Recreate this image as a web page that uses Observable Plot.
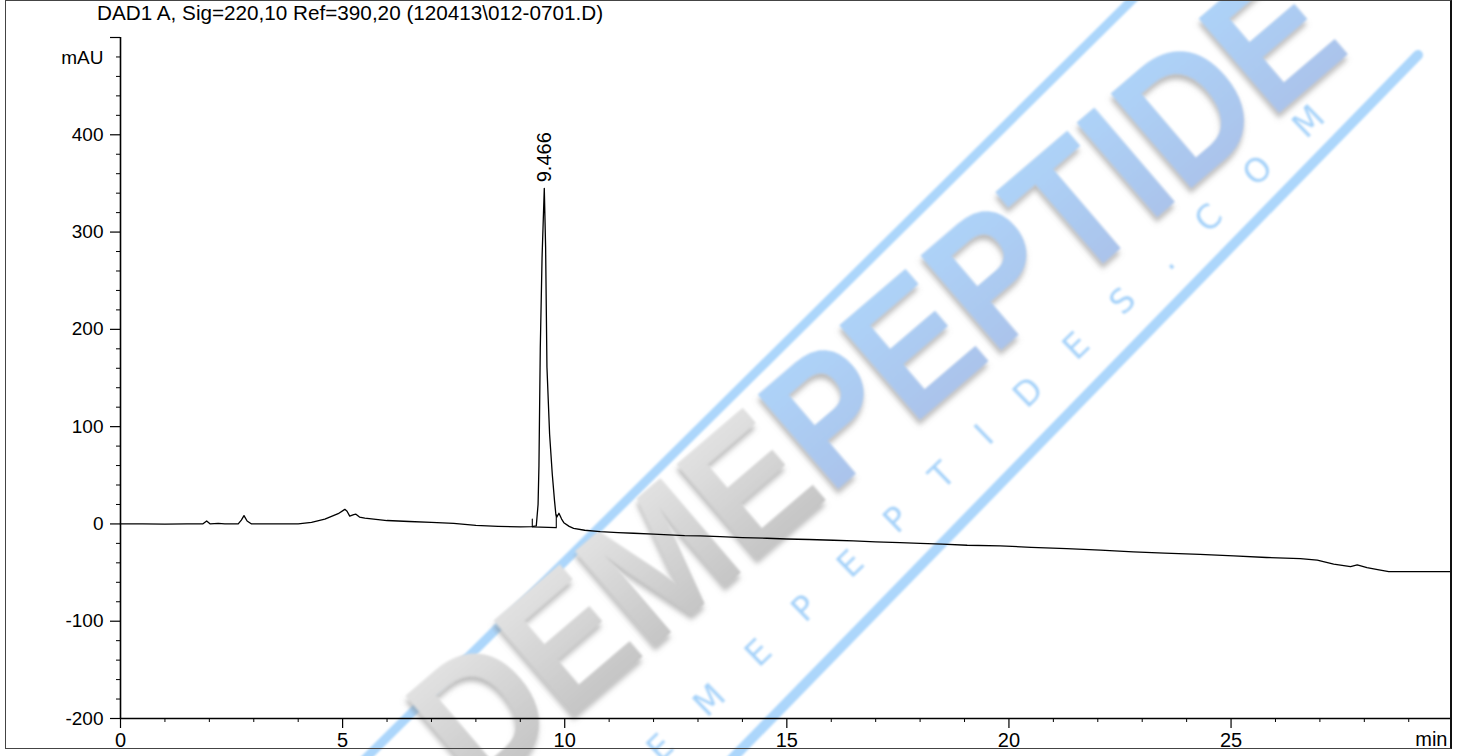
<!DOCTYPE html>
<html>
<head>
<meta charset="utf-8">
<script src="https://cdn.jsdelivr.net/npm/d3@7"></script>
<script src="https://cdn.jsdelivr.net/npm/@observablehq/plot@0.6"></script>
<style>
  body { margin: 0; background: #fff; }
  #wrap { position: relative; width: 1465px; height: 756px; overflow: hidden; background: #fff; font-family: "Liberation Sans", Arial, sans-serif; }
  #title { position: relative; z-index: 2; height: 26px; line-height: 26px; padding-left: 97px; font-size: 20.7px; color: #000; white-space: nowrap; }
  #chart { position: relative; z-index: 2; }
  #wm { position: absolute; left: 0; top: 0; z-index: 1; }
  #frame { position: absolute; left: 5px; top: 0; width: 1444px; height: 747px; border: 1.5px solid #444; border-right: 2px solid #111; z-index: 3; pointer-events: none; }
</style>
</head>
<body>
<div id="wrap">
  <svg id="wm" width="1465" height="756">
    <defs>
      <linearGradient id="gg" x1="0" y1="0" x2="0" y2="1">
        <stop offset="0" stop-color="#eaeaea"/>
        <stop offset="1" stop-color="#bdbdbd"/>
      </linearGradient>
      <linearGradient id="bg" x1="0" y1="0" x2="0" y2="1">
        <stop offset="0" stop-color="#aed7fc"/>
        <stop offset="1" stop-color="#aabfe7"/>
      </linearGradient>
      <filter id="sh" x="-10%" y="-10%" width="120%" height="120%">
        <feGaussianBlur in="SourceGraphic" stdDeviation="1.2" result="b"/>
        <feDropShadow in="b" dx="-4" dy="4" stdDeviation="2.5" flood-color="#777" flood-opacity="0.5"/>
      </filter>
      <filter id="soft"><feGaussianBlur stdDeviation="1.1"/></filter>
    </defs>
    <line x1="362" y1="762" x2="1138" y2="-6" stroke="#acd6fb" stroke-width="9" filter="url(#soft)"/>
    <line x1="728" y1="763" x2="1418" y2="55" stroke="#acd6fb" stroke-width="10" stroke-linecap="round" filter="url(#soft)"/>
    <text transform="translate(478,797) rotate(-40.5)" font-family="Liberation Sans, Arial, sans-serif" font-size="180" font-weight="bold" textLength="1150" lengthAdjust="spacingAndGlyphs" filter="url(#sh)"><tspan fill="url(#gg)">DEME</tspan><tspan fill="url(#bg)">PEPTIDE</tspan></text>
    <text transform="translate(611,811) rotate(-44)" font-family="DejaVu Sans, sans-serif" font-size="33" fill="#a4d1f9" textLength="995" lengthAdjust="spacing" filter="url(#soft)">DEMEPEPTIDES.COM</text>
  </svg>
  <div id="title"></div>
  <div id="chart"></div>
  <div id="frame"></div>
</div>
<script>
// ---- data ----
const title = "DAD1 A, Sig=220,10 Ref=390,20 (120413\\012-0701.D)";
const yUnit = "mAU";
const xUnit = "min";

// retention time (min)
const times = [0, 0.5, 1.0, 1.5, 1.85, 1.94, 2.02, 2.2, 2.35, 2.65, 2.72, 2.78, 2.85, 2.95, 3.5, 4.0, 4.3, 4.6, 4.9, 5.05, 5.1, 5.16, 5.25, 5.3, 5.38, 5.5, 6.0, 6.5, 7.0, 7.5, 8.0, 8.5, 9.0, 9.26, 9.36, 9.40, 9.42, 9.45, 9.49, 9.54, 9.57, 9.60, 9.66, 9.72, 9.77, 9.80, 9.82, 9.87, 9.93, 9.98, 10.1, 10.2, 10.45, 10.8, 11.2, 11.55, 12.0, 12.7, 13.05, 13.5, 14.0, 14.55, 15.0, 15.5, 16.05, 16.5, 17.0, 17.55, 18.0, 18.5, 19.06, 19.8, 20.5, 21.3, 22.06, 22.8, 23.5, 24.3, 25.06, 25.8, 26.56, 26.94, 27.31, 27.69, 27.84, 28.06, 28.3, 28.55, 29.0, 29.5, 29.94];
// absorbance (mAU)
const signal = [0, 0, -0.3, 0, 0, 3, 0, 0.5, 0, 0, 4, 8.5, 3, 0, 0, 0, 1.5, 5, 10.5, 15, 13, 8, 9.5, 10, 7, 6, 3.5, 2.5, 1.5, 0.5, -1.5, -2.5, -3, -2.8, -2, 20, 60, 181, 274, 345, 284, 161, 92, 51, 24, 10, 7, 11, 5, 1.3, -2.5, -4.5, -6.5, -8, -9, -9.6, -10.5, -12, -12.3, -13, -14, -14.7, -15.5, -16, -16.8, -17.5, -18.5, -19.2, -20, -20.7, -21.9, -22.6, -24, -25.4, -27, -28.8, -30, -31.2, -32.9, -34.5, -35.7, -37.3, -41.4, -43.9, -42.2, -44.9, -47, -49, -49, -49, -49];

// integration baseline drawn under the main peak
const baseTimes = [9.27, 9.27, 9.81, 9.81];
const baseValues = [5, -3, -3.8, 9];

// peak annotation
const peakTimes = [9.54];
const peakValues = [345];
const peakLabels = ["9.466"];

// axes
const xMajor = [0, 5, 10, 15, 20, 25];
const xMinor = d3.range(0, 30, 1).filter(d => d % 5 !== 0);
const yMajor = [-200, -100, 0, 100, 200, 300, 400, 500];
const yMajorLabels = ["-200", "-100", "0", "100", "200", "300", "400", ""];
const yMinor = d3.range(-200, 500, 20).filter(d => d % 100 !== 0);

const trace = times.map((t, i) => ({t, v: signal[i]}));
const base = baseTimes.map((t, i) => ({t, v: baseValues[i]}));
const peaks = peakTimes.map((t, i) => ({t, v: peakValues[i], label: peakLabels[i]}));

document.getElementById("title").textContent = title;

const font = "Liberation Sans, Arial, sans-serif";
const chart = Plot.plot({
  width: 1465,
  height: 730,
  marginLeft: 120,
  marginRight: 15,
  marginTop: 11,
  marginBottom: 38,
  style: {fontFamily: font, background: "transparent", color: "#000", overflow: "visible"},
  x: {domain: [0, 29.94]},
  y: {domain: [-200, 500]},
  marks: [
    Plot.axisY(yMajor, {tickSize: 10, tickPadding: 7, fontSize: 19, strokeWidth: 1.2, tickFormat: d => yMajorLabels[yMajor.indexOf(d)], label: null}),
    Plot.axisY(yMinor, {tickSize: 4, text: null, strokeWidth: 1, label: null}),
    Plot.axisX(xMajor, {tickSize: 10, tickPadding: 4, fontSize: 20, strokeWidth: 1.2, tickFormat: d => String(d), label: null}),
    Plot.axisX(xMinor, {tickSize: 4, text: null, strokeWidth: 1, label: null}),
    Plot.ruleX([0], {y1: -200, y2: 500, stroke: "#000", strokeWidth: 1.6}),
    Plot.ruleY([-200], {stroke: "#000", strokeWidth: 1.6}),
    Plot.line(trace, {x: "t", y: "v", stroke: "#000", strokeWidth: 1.3}),
    Plot.line(base, {x: "t", y: "v", stroke: "#000", strokeWidth: 1.1}),
    Plot.text(peaks, {x: "t", y: "v", text: "label", rotate: -90, textAnchor: "start", dy: -6, fontSize: 20, fill: "#000"}),
    Plot.text([yUnit], {frameAnchor: "top-left", textAnchor: "end", dx: -17, dy: 13, fontSize: 19, fill: "#000"}),
    Plot.text([xUnit], {frameAnchor: "bottom-right", textAnchor: "end", dx: -3, dy: 27, fontSize: 20, fill: "#000"})
  ]
});
document.getElementById("chart").appendChild(chart);
</script>
</body>
</html>
